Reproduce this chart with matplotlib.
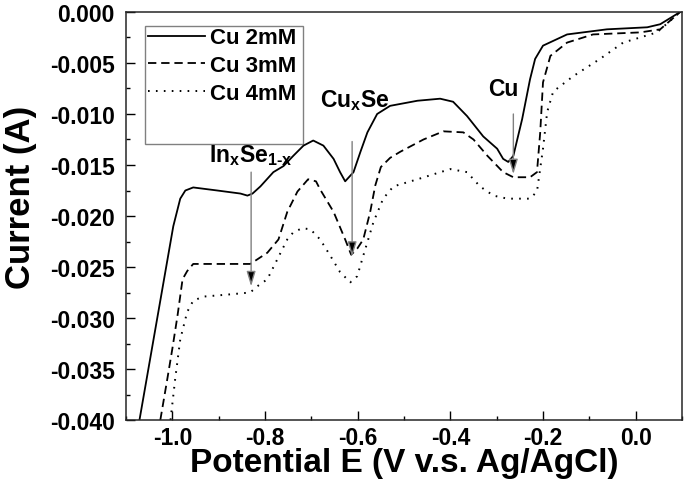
import matplotlib
matplotlib.use("Agg")
import matplotlib.pyplot as plt
import matplotlib.patches as mpatches
from matplotlib.ticker import MultipleLocator, FormatStrFormatter

plt.rcParams.update({
    "font.family": "Liberation Sans",
    "font.weight": "bold",
    "axes.unicode_minus": False,
    "lines.scale_dashes": False,
    "mathtext.fontset": "custom",
    "mathtext.rm": "Liberation Sans:bold",
    "mathtext.it": "Liberation Sans:bold",
    "mathtext.bf": "Liberation Sans:bold",
})

# potential (V vs Ag/AgCl) and current (A)
e_2mM = [-1.071, -0.998, -0.983, -0.972, -0.955, -0.903, -0.853, -0.838, -0.827,
         -0.810, -0.782, -0.760, -0.739, -0.717, -0.696, -0.674, -0.652, -0.638,
         -0.627, -0.609, -0.594, -0.579, -0.558, -0.530, -0.471, -0.422, -0.394,
         -0.364, -0.329, -0.299, -0.286, -0.275, -0.264, -0.245, -0.228, -0.217,
         -0.200, -0.148, -0.062, 0.025, 0.053, 0.096]
i_2mM = [-0.0400, -0.0210, -0.0183, -0.0175, -0.0172, -0.0175, -0.0178, -0.0180, -0.0178,
         -0.0171, -0.0157, -0.0151, -0.0141, -0.0131, -0.0126, -0.0131, -0.0144, -0.0157,
         -0.0166, -0.0157, -0.0137, -0.0118, -0.0100, -0.0092, -0.0087, -0.0085, -0.0088,
         -0.0102, -0.0122, -0.0134, -0.0144, -0.0147, -0.0141, -0.0105, -0.0066, -0.0046,
         -0.0033, -0.0022, -0.0017, -0.0015, -0.0012, 0.0000]

e_3mM = [-1.026, -1.011, -1.000, -0.989, -0.978, -0.968, -0.955, -0.900, -0.832,
         -0.825, -0.795, -0.771, -0.752, -0.730, -0.707, -0.690, -0.681, -0.652,
         -0.627, -0.614, -0.601, -0.588, -0.573, -0.562, -0.550, -0.530, -0.508,
         -0.458, -0.415, -0.372, -0.350, -0.320, -0.286, -0.264, -0.228, -0.213,
         -0.206, -0.200, -0.184, -0.148, -0.092, 0.010, 0.053, 0.096]
i_3mM = [-0.0400, -0.0360, -0.0330, -0.0298, -0.0262, -0.0254, -0.0247, -0.0247, -0.0247,
         -0.0245, -0.0236, -0.0223, -0.0196, -0.0176, -0.0164, -0.0166, -0.0174, -0.0196,
         -0.0223, -0.0238, -0.0232, -0.0223, -0.0196, -0.0170, -0.0152, -0.0143, -0.0137,
         -0.0125, -0.0117, -0.0118, -0.0125, -0.0141, -0.0157, -0.0162, -0.0162, -0.0157,
         -0.0118, -0.0069, -0.0043, -0.0030, -0.0022, -0.0020, -0.0017, 0.0000]

e_4mM = [-1.004, -0.994, -0.983, -0.968, -0.955, -0.933, -0.880, -0.832, -0.817,
         -0.795, -0.773, -0.752, -0.739, -0.720, -0.702, -0.681, -0.659, -0.638,
         -0.616, -0.601, -0.588, -0.566, -0.545, -0.523, -0.471, -0.400, -0.364,
         -0.336, -0.307, -0.277, -0.228, -0.213, -0.200, -0.191, -0.178, -0.135,
         -0.077, -0.027, 0.046, 0.096]
i_4mM = [-0.0400, -0.0360, -0.0321, -0.0294, -0.0283, -0.0279, -0.0277, -0.0275, -0.0269,
         -0.0262, -0.0242, -0.0223, -0.0216, -0.0212, -0.0213, -0.0223, -0.0239, -0.0255,
         -0.0265, -0.0259, -0.0239, -0.0206, -0.0183, -0.0171, -0.0164, -0.0154, -0.0157,
         -0.0171, -0.0180, -0.0183, -0.0183, -0.0176, -0.0134, -0.0098, -0.0078, -0.0063,
         -0.0046, -0.0030, -0.0020, 0.0000]

labels = ["Cu 2mM", "Cu 3mM", "Cu 4mM"]

# peak labels: (text, text x, text y, arrow x, arrow start y, arrow tip y)
peaks = [
    (r"In$_{\rm x}$Se$_{\rm 1\text{-}x}$", -0.922, -0.0146, -0.830, -0.0157, -0.0269),
    (r"Cu$_{\rm x}$Se", -0.681, -0.0092, -0.612, -0.0127, -0.0240),
    ("Cu", -0.318, -0.0081, -0.264, -0.0100, -0.0159),
]

fig = plt.figure(figsize=(6.85, 4.81), dpi=100)
ax = fig.add_axes([0.184, 0.1247, 0.8116, 0.8483])

ax.plot(e_2mM, i_2mM, color="black", lw=1.3, label=labels[0])
ax.plot(e_3mM, i_3mM, color="black", lw=1.3, dashes=(6, 3.5), label=labels[1])
ax.plot(e_4mM, i_4mM, color="black", lw=1.4, dashes=(1.2, 4.5), label=labels[2])

for txt, tx, ty, ax_x, y0, y1 in peaks:
    ax.text(tx, ty, txt, fontsize=16.5, fontweight="bold", ha="left", va="baseline")
    ax.annotate("", xy=(ax_x, y1), xytext=(ax_x, y0),
                arrowprops=dict(arrowstyle="-|>,head_length=0.6,head_width=0.18",
                                mutation_scale=15, fc="black", ec="0.5", lw=1,
                                shrinkA=0, shrinkB=0))

ax.set_xlim(-1.1, 0.1)
ax.set_ylim(-0.040, 0.000)
ax.xaxis.set_major_locator(MultipleLocator(0.2))
ax.xaxis.set_minor_locator(MultipleLocator(0.1))
ax.yaxis.set_major_locator(MultipleLocator(0.005))
ax.yaxis.set_minor_locator(MultipleLocator(0.0025))
ax.xaxis.set_major_formatter(FormatStrFormatter("%.1f"))
ax.yaxis.set_major_formatter(FormatStrFormatter("%.3f"))
ax.tick_params(which="both", direction="in", top=False, right=False, width=1)
ax.tick_params(which="major", length=6.5, labelsize=16.5)
ax.tick_params(axis="x", which="major", pad=4)
ax.tick_params(axis="y", which="major", pad=8)
ax.tick_params(which="minor", length=3)
for sp in ax.spines.values():
    sp.set_linewidth(1.1)
    sp.set_color("0.15")

ax.set_xlabel("Potential E (V v.s. Ag/AgCl)", fontsize=24, fontweight="bold")
ax.set_ylabel("Current (A)", fontsize=25, fontweight="bold")
ax.xaxis.set_label_coords(0.5, -0.066)
ax.yaxis.set_label_coords(-0.16, 0.547)

ax.legend(loc="upper left", bbox_to_anchor=(0.0396, 0.962), frameon=False,
          fontsize=16, handlelength=2.56, handletextpad=0.22, labelspacing=0.3,
          borderpad=0, borderaxespad=0)
ax.add_patch(mpatches.Rectangle((0.034, 0.676), 0.284, 0.289, transform=ax.transAxes,
                                fill=False, ec="0.5", lw=1))

fig.savefig("out.png", dpi=100)
